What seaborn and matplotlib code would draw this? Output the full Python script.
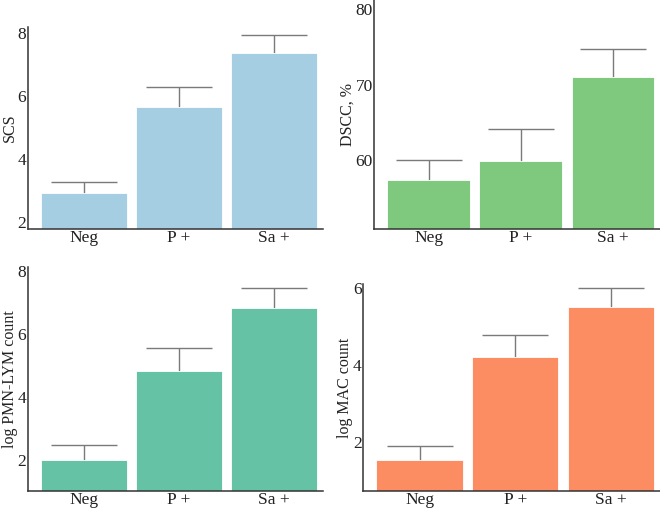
import matplotlib
matplotlib.use("Agg")
import matplotlib.pyplot as plt
import seaborn as sns
import pandas as pd

sns.set_style("white")
plt.rcParams['font.family'] = ['Liberation Serif', 'DejaVu Serif']

# data
groups = ['Neg', 'P +', 'Sa +']

scs_mean = [2.91, 5.64, 7.37]
scs_err = [0.37, 0.64, 0.58]

dscc_mean = [57.4, 59.95, 70.95]
dscc_err = [2.65, 4.25, 3.75]

pmn_mean = [2.00, 4.83, 6.83]
pmn_err = [0.45, 0.71, 0.64]

mac_mean = [1.52, 4.21, 5.50]
mac_err = [0.36, 0.58, 0.51]

panels = [
    # mean, err, label, colour, ylim, yticks, axes rect
    (scs_mean, scs_err, 'SCS', '#a6cee3', (1.78, 8.19), [2, 4, 6, 8],
     [0.042, 0.550, 0.447, 0.397]),
    (dscc_mean, dscc_err, 'DSCC, %', '#7fc97f', (50.9, 81.2), [60, 70, 80],
     [0.567, 0.550, 0.433, 0.450]),
    (pmn_mean, pmn_err, 'log PMN-LYM count', '#66c2a5', (1.0, 8.13), [2, 4, 6, 8],
     [0.042, 0.0354, 0.447, 0.440]),
    (mac_mean, mac_err, 'log MAC count', '#fc8d62', (0.71, 6.11), [2, 4, 6],
     [0.550, 0.0354, 0.450, 0.4066]),
]

fig = plt.figure(figsize=(6.6, 5.09), dpi=100)

for mean, err, label, colour, ylim, yticks, rect in panels:
    ax = fig.add_axes(rect)
    df = pd.DataFrame({'Group': groups, 'Value': mean})
    sns.barplot(data=df, x='Group', y='Value', color=colour, saturation=1,
                width=0.9, errorbar=None, edgecolor='white', linewidth=0.6,
                zorder=2, ax=ax)
    # symmetric bars drawn behind the bars, so only the upper half shows
    ax.errorbar(range(len(groups)), mean, yerr=err, fmt='none',
                ecolor='#7a7a7a', elinewidth=1.0, capsize=23.5, capthick=1.0, zorder=1)
    ax.set_xlim(-0.59, 2.51)
    ax.set_ylim(*ylim)
    ax.set_yticks(yticks)
    ax.set_xlabel('')
    ax.set_ylabel(label, fontsize=11.5, color='#222222', labelpad=0)
    ax.tick_params(axis='both', length=0, labelsize=12.5, labelcolor='#222222', pad=1)
    sns.despine(ax=ax)
    for s in ['left', 'bottom']:
        ax.spines[s].set_color('#333333')
        ax.spines[s].set_linewidth(1.1)

fig.savefig('out.png', dpi=100)
